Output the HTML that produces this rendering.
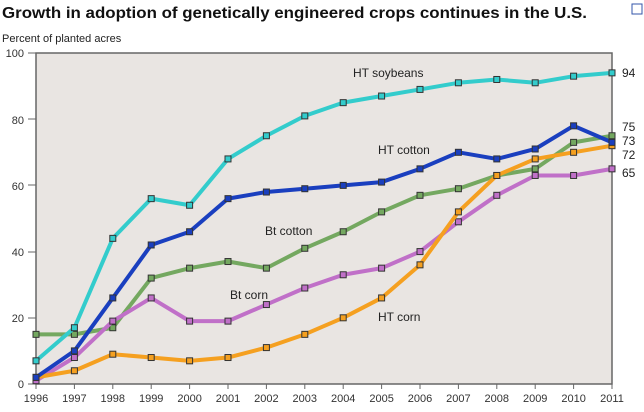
<!DOCTYPE html>
<html><head><style>
body{margin:0;background:#fff;width:644px;height:407px;overflow:hidden;font-family:"Liberation Sans",sans-serif}
</style></head><body>
<svg width="644" height="407" xmlns="http://www.w3.org/2000/svg" font-family="Liberation Sans, sans-serif">
<text x="2" y="18" font-size="16" font-weight="bold" fill="#111" textLength="585" lengthAdjust="spacingAndGlyphs">Growth in adoption of genetically engineered crops continues in the U.S.</text>
<text x="2" y="42" font-size="11" fill="#222">Percent of planted acres</text>
<rect x="36" y="53" width="576" height="331" fill="#e9e5e2" stroke="#666" stroke-width="1.5"/>
<g font-size="11" fill="#333" text-anchor="end">
<text x="24" y="388">0</text><text x="24" y="322">20</text><text x="24" y="256">40</text><text x="24" y="190">60</text><text x="24" y="124">80</text><text x="24" y="57">100</text>
</g>
<g stroke="#666"><line x1="28" y1="384" x2="36" y2="384"/><line x1="28" y1="318" x2="36" y2="318"/><line x1="28" y1="252" x2="36" y2="252"/><line x1="28" y1="185" x2="36" y2="185"/><line x1="28" y1="119" x2="36" y2="119"/><line x1="28" y1="53" x2="36" y2="53"/></g>
<g id="xl" font-size="11" fill="#333" text-anchor="middle"></g>
<g id="series"></g>
<g font-size="12" fill="#222">
<text x="353" y="77">HT soybeans</text>
<text x="378" y="154">HT cotton</text>
<text x="265" y="235">Bt cotton</text>
<text x="230" y="299">Bt corn</text>
<text x="378" y="321">HT corn</text>
<text x="622" y="77">94</text>
<text x="622" y="131">75</text>
<text x="622" y="145">73</text>
<text x="622" y="159">72</text>
<text x="622" y="177">65</text>
</g>
<rect x="632" y="4" width="10" height="10" fill="none" stroke="#3355aa"/>
</svg>
<script>
var ns="http://www.w3.org/2000/svg";
function X(i){return 36+i*38.4}function Y(v){return 384-v*3.31}
var xl=document.getElementById("xl");
for(var i=0;i<16;i++){var t=document.createElementNS(ns,"text");t.setAttribute("x",X(i));t.setAttribute("y",402);t.textContent=1996+i;xl.appendChild(t);
var l=document.createElementNS(ns,"line");l.setAttribute("x1",X(i));l.setAttribute("x2",X(i));l.setAttribute("y1",384);l.setAttribute("y2",389);l.setAttribute("stroke","#666");xl.appendChild(l);}
var S=[
["#74a860",[15,15,17,32,35,37,35,41,46,52,57,59,63,65,73,75]],
["#c070c8",[1,8,19,26,19,19,24,29,33,35,40,49,57,63,63,65]],
["#f5a020",[2,4,9,8,7,8,11,15,20,26,36,52,63,68,70,72]],
["#1a3fbf",[2,10,26,42,46,56,58,59,60,61,65,70,68,71,78,73]],
["#33cccc",[7,17,44,56,54,68,75,81,85,87,89,91,92,91,93,94]]];
var g=document.getElementById("series");
S.forEach(function(s){var p=s[1].map(function(v,i){return X(i)+","+Y(v)}).join(" ");
var pl=document.createElementNS(ns,"polyline");pl.setAttribute("points",p);pl.setAttribute("fill","none");pl.setAttribute("stroke",s[0]);pl.setAttribute("stroke-width","4");pl.setAttribute("stroke-linejoin","round");g.appendChild(pl);
s[1].forEach(function(v,i){var r=document.createElementNS(ns,"rect");r.setAttribute("x",X(i)-3);r.setAttribute("y",Y(v)-3);r.setAttribute("width",6);r.setAttribute("height",6);r.setAttribute("fill",s[0]);r.setAttribute("stroke","#333");r.setAttribute("stroke-width","1");g.appendChild(r);});});
</script>
</body></html>
